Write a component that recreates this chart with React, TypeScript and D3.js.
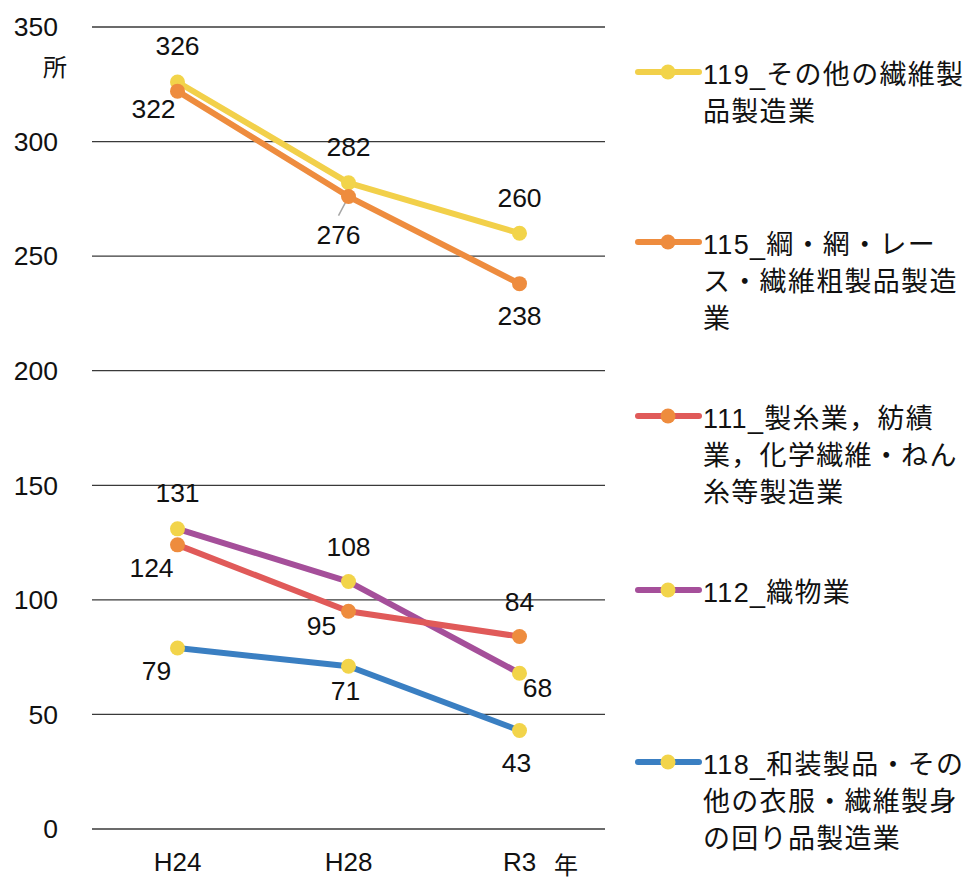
import React from "react";
import * as d3 from "d3";

const categories = ["H24", "H28", "R3"];
const yTicks = [0, 50, 100, 150, 200, 250, 300, 350];

const s119 = [326, 282, 260];
const s115 = [322, 276, 238];
const s111 = [124, 95, 84];
const s112 = [131, 108, 68];
const s118 = [79, 71, 43];

const legend119 = ["119_その他の繊維製", "品製造業"];
const legend115 = ["115_綱・網・レー", "ス・繊維粗製品製造", "業"];
const legend111 = ["111_製糸業，紡績", "業，化学繊維・ねん", "糸等製造業"];
const legend112 = ["112_織物業"];
const legend118 = ["118_和装製品・その", "他の衣服・繊維製身", "の回り品製造業"];

// style config (not data)
const series = [
  { key: "118", values: s118, line: "#3A7FC2", marker: "#F2D44A", legend: legend118, ly: 762,
    offs: [[-21, 23], [-3, 24], [-3, 32]] },
  { key: "112", values: s112, line: "#A54F9A", marker: "#F2D44A", legend: legend112, ly: 590,
    offs: [[0, -36], [0, -35], [18, 15]] },
  { key: "111", values: s111, line: "#E05A59", marker: "#EE8C3E", legend: legend111, ly: 416,
    offs: [[-26, 23], [-27, 14], [0, -35]] },
  { key: "119", values: s119, line: "#F2D04A", marker: "#F2D44A", legend: legend119, ly: 72,
    offs: [[0, -36], [0, -36], [0, -36]] },
  { key: "115", values: s115, line: "#EE8C3E", marker: "#EE8C3E", legend: legend115, ly: 242,
    offs: [[-24, 18], [-10, 38], [0, 32]] },
];

const W = 969, H = 880;
const left = 92, right = 605, top = 27, bottom = 829;

export default function App() {
  const x = d3.scalePoint<string>().domain(categories).range([left, right]).padding(0.5);
  const y = d3.scaleLinear().domain([0, 350]).range([bottom, top]);
  const lineGen = d3.line<number>().x((_, i) => x(categories[i])!).y((d) => y(d));
  const numFont = "'Liberation Sans', Arial, sans-serif";
  const jpFont = "'Liberation Sans', 'Noto Sans CJK JP', sans-serif";

  return (
    <svg width={W} height={H} style={{ position: "absolute", left: 0, top: 0, background: "#fff" }}>
      <rect width={W} height={H} fill="#fff" />
      {yTicks.map((t) => (
        <g key={t}>
          <line x1={left} x2={right} y1={y(t)} y2={y(t)} stroke="#3a3a3a" strokeWidth={1.3} />
          <text x={58} y={y(t)} dy="0.35em" textAnchor="end" fontFamily={numFont} fontSize={26.5} fill="#111">
            {t}
          </text>
        </g>
      ))}
      <text x={55} y={68} dy="0.35em" textAnchor="middle" fontFamily="'Noto Sans CJK JP', sans-serif" fontSize={24} fill="#111">所</text>
      {categories.map((c) => (
        <text key={c} x={x(c)!} y={862} dy="0.35em" textAnchor="middle" fontFamily={numFont} fontSize={26} fill="#111">
          {c}
        </text>
      ))}
      <text x={566} y={866} dy="0.35em" textAnchor="middle" fontFamily="'Noto Sans CJK JP', sans-serif" fontSize={24} fill="#111">年</text>

      {/* leader line for 276 */}
      <line x1={x("H28")! - 1} y1={y(s115[1]) + 2} x2={x("H28")! - 10} y2={y(s115[1]) + 19} stroke="#a6a6a6" strokeWidth={1.5} />

      {series.map((s) => (
        <g key={s.key}>
          <path d={lineGen(s.values)!} fill="none" stroke={s.line} strokeWidth={6} strokeLinejoin="round" strokeLinecap="round" />
          {s.values.map((v, i) => (
            <circle key={i} cx={x(categories[i])!} cy={y(v)} r={7.5} fill={s.marker} />
          ))}
        </g>
      ))}
      {series.map((s) => (
        <g key={s.key + "l"}>
          {s.values.map((v, i) => (
            <text key={i} x={x(categories[i])! + s.offs[i][0]} y={y(v) + s.offs[i][1]} dy="0.35em" textAnchor="middle"
              fontFamily={numFont} fontSize={26.5} fill="#111">
              {v}
            </text>
          ))}
        </g>
      ))}

      {series.map((s) => (
        <g key={s.key + "g"}>
          <line x1={638} x2={699} y1={s.ly} y2={s.ly} stroke={s.line} strokeWidth={6} strokeLinecap="round" />
          <circle cx={668} cy={s.ly} r={7.5} fill={s.marker} />
          {s.legend.map((t, j) => (
            <text key={j} x={703} y={s.ly + 3 + j * 37} dy="0.35em" fontFamily={jpFont} fontSize={27} letterSpacing={1.3} fill="#111">
              {t}
            </text>
          ))}
        </g>
      ))}
    </svg>
  );
}
